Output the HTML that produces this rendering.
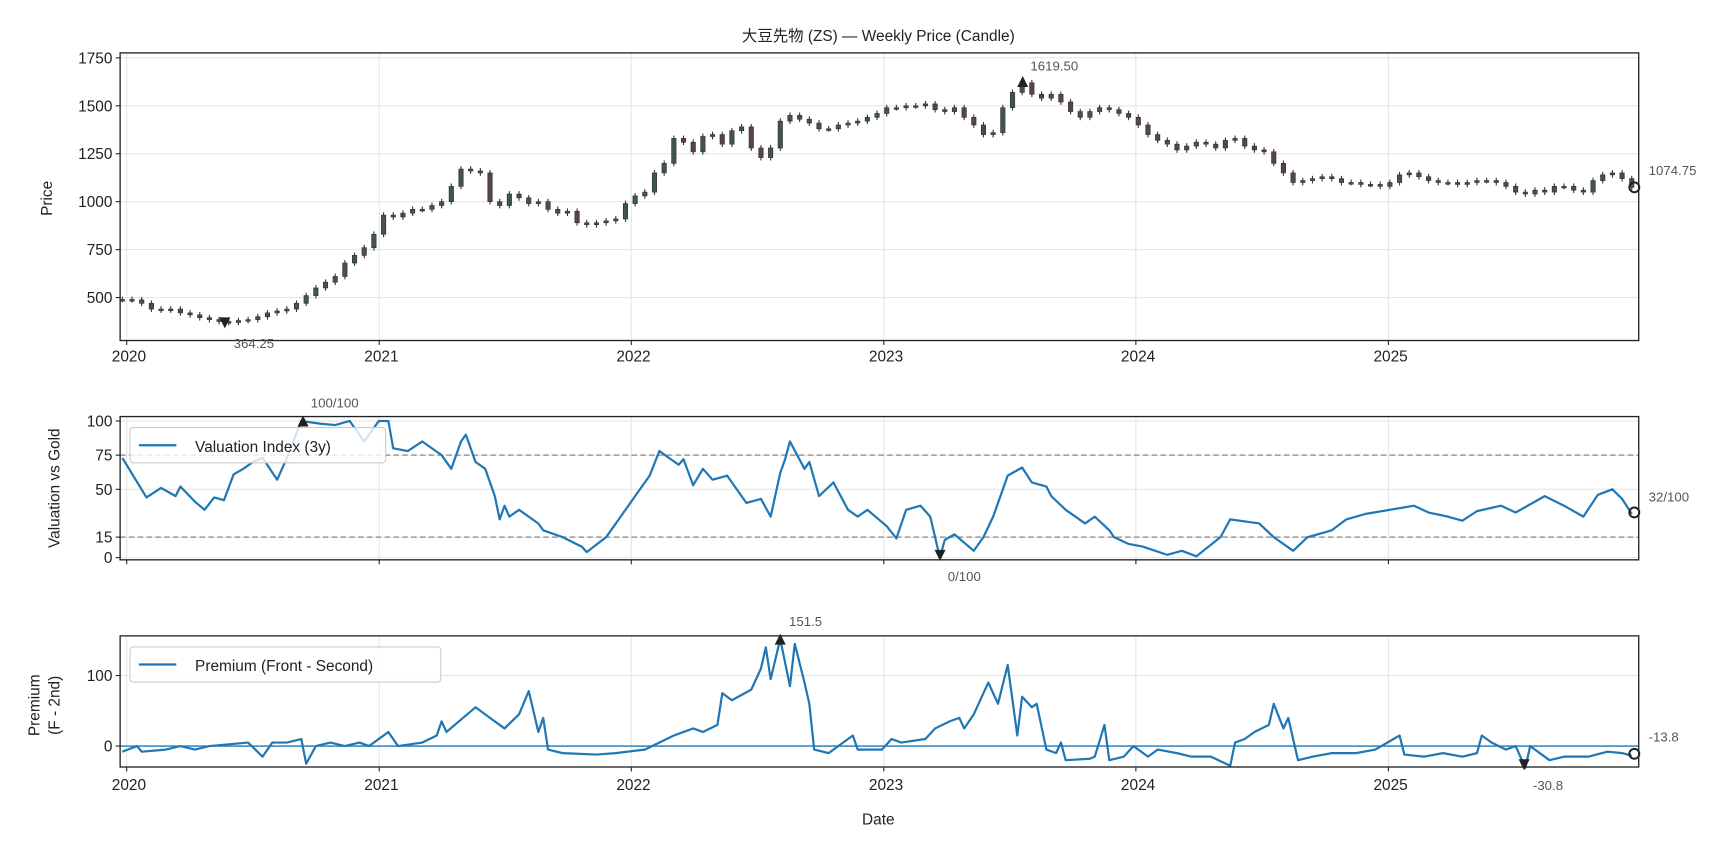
<!DOCTYPE html>
<html><head><meta charset="utf-8">
<style>
html,body{margin:0;padding:0;background:#fff;}
svg{display:block;font-family:"Liberation Sans","Noto Sans CJK JP",sans-serif;}
.tk{font-size:14px;fill:#222;}
.an{font-size:12px;fill:#555;font-family:"Liberation Sans Narrow","Liberation Sans",sans-serif;}
</style></head>
<body>
<svg id="chart" width="1728" height="849" viewBox="0 0 1568 770.4"></svg>
<script>
// ---- data ----
const yearTickWeeks = [0.9, 53.1, 105.2, 157.4, 209.5, 261.7];
const yearLabels = ["2020","2021","2022","2023","2024","2025"];
const priceWeeks = [0,2,4,6,8,10,12,14,16,18,20,22,24,26,28,30,32,34,36,38,40,42,44,46,48,50,52,54,56,58,60,62,64,66,68,70,72,74,76,78,80,82,84,86,88,90,92,94,96,98,100,102,104,106,108,110,112,114,116,118,120,122,124,126,128,130,132,134,136,138,140,142,144,146,148,150,152,154,156,158,160,162,164,166,168,170,172,174,176,178,180,182,184,186,188,190,192,194,196,198,200,202,204,206,208,210,212,214,216,218,220,222,224,226,228,230,232,234,236,238,240,242,244,246,248,250,252,254,256,258,260,262,264,266,268,270,272,274,276,278,280,282,284,286,288,290,292,294,296,298,300,302,304,306,308,310,312];
const priceClose = [490,488,470,440,435,440,420,410,395,385,375,370,380,385,400,420,430,440,470,510,550,580,610,680,720,760,830,930,920,940,960,960,980,1000,1080,1170,1160,1150,1000,980,1040,1020,990,1000,960,940,950,890,880,890,900,910,990,1030,1050,1150,1200,1330,1310,1260,1340,1350,1300,1370,1390,1280,1230,1280,1420,1450,1430,1410,1380,1380,1400,1410,1420,1440,1460,1490,1490,1500,1500,1510,1480,1470,1490,1440,1400,1350,1360,1490,1570,1620,1560,1540,1560,1520,1470,1440,1470,1490,1480,1460,1440,1400,1350,1320,1300,1270,1290,1310,1300,1280,1320,1330,1290,1270,1260,1200,1150,1100,1110,1120,1130,1120,1100,1100,1090,1090,1080,1100,1140,1150,1130,1110,1100,1100,1090,1100,1110,1110,1100,1080,1050,1040,1060,1050,1080,1080,1060,1050,1110,1140,1150,1120,1075];
const priceTicks = [500,750,1000,1250,1500,1750];
const valWeeks = [0,5,8,9,11,12,15,17,19,21,23,25,27,29,32,34,37,41,44,47,50,53,55,56,59,62,66,68,70,71,73,75,77,78,79,80,82,86,87,91,95,96,100,102,104,106,109,111,115,116,118,120,122,125,129,132,134,136,137,138,141,142,144,147,150,152,154,158,160,162,165,167,169,170,172,176,178,180,183,184,186,188,191,192,195,199,201,204,205,208,211,216,219,222,227,229,235,238,242,245,250,253,257,262,267,270,274,277,280,285,288,294,298,302,305,308,310,312];
const valValues = [73,44,51,49,45,52,41,35,44,42,61,65,70,73,57,73,100,98,97,100,85,100,100,80,78,85,75,65,85,90,70,65,45,28,38,30,35,25,20,15,8,4,15,25,35,45,60,78,68,72,53,65,57,60,40,43,30,62,72,85,65,70,45,55,35,30,35,23,14,35,38,30,0,13,17,5,15,30,60,62,66,55,52,45,35,25,30,20,15,10,8,2,5,1,15,28,25,15,5,15,20,28,32,35,38,33,30,27,34,38,33,45,38,30,46,50,43,32];
const valTicks = [0,15,50,75,100];
const premWeeks = [0,3,4,9,12,15,18,26,29,31,34,37,38,40,43,46,49,51,55,57,62,65,66,67,73,76,79,82,84,86,87,88,91,98,102,108,114,118,120,123,124,126,130,132,133,134,136,138,139,141,142,143,146,149,151,152,157,159,161,166,168,171,173,174,176,179,181,183,185,186,188,189,191,193,194,195,200,201,203,204,207,209,210,212,214,218,221,225,229,230,232,234,237,238,240,241,243,246,250,255,259,264,265,269,273,277,280,281,283,286,288,290,291,292,295,298,303,307,310,312];
const premValues = [-8,0,-8,-5,0,-5,0,5,-15,5,5,10,-25,0,5,0,5,0,20,0,5,15,35,20,55,40,25,45,78,20,40,-5,-10,-12,-10,-5,15,25,20,30,75,65,80,110,140,95,151.5,85,145,90,60,-5,-10,5,15,-5,-5,10,5,10,25,35,40,25,45,90,60,115,15,70,55,60,-5,-10,5,-20,-18,-15,30,-20,-15,0,-5,-15,-5,-10,-15,-15,-28,5,10,20,30,60,25,40,-20,-15,-10,-10,-5,15,-12,-15,-10,-15,-10,15,5,-5,0,-30.8,0,-5,-20,-15,-15,-8,-10,-13.8];
const premTicks = [0,100];

// ---- axes ----
const NS="http://www.w3.org/2000/svg";
const svg=document.getElementById('chart');
const X0=109,X1=1487;
const xW=w=>111+w*4.39;
const yP=p=>270-(p-500)*0.174;
const yV=v=>506-v*1.24;
const yR=v=>677-v*0.64;
function mk(tag,attrs,parent){const e=document.createElementNS(NS,tag);for(const k in attrs)e.setAttribute(k,attrs[k]);(parent||svg).appendChild(e);return e;}
function txt(s,x,y,cls,anchor,extra){const t=mk('text',Object.assign({x:x,y:y,class:cls,'text-anchor':anchor||'middle'},extra||{}));t.textContent=s;return t;}

const panels=[{t:48,b:309,ticks:priceTicks,f:yP,name:'price'},{t:378,b:508,ticks:valTicks,f:yV,name:'valuation'},{t:577,b:696,ticks:premTicks,f:yR,name:'premium'}];
panels.forEach(p=>{
  const g=mk('g',{});
  
  
  yearTickWeeks.forEach(w=>mk('line',{x1:xW(w),x2:xW(w),y1:p.t,y2:p.b,stroke:'#e6e6e6','stroke-width':1},g));
  p.ticks.forEach(v=>{mk('line',{x1:X0,x2:X1,y1:p.f(v),y2:p.f(v),stroke:'#e6e6e6','stroke-width':1},g);
    mk('line',{x1:X0-4,x2:X0,y1:p.f(v),y2:p.f(v),stroke:'#222'},g);
    const t=txt(String(v),X0-7,p.f(v)+5,'tk','end');
    
    });
  yearTickWeeks.forEach(w=>mk('line',{x1:xW(w),x2:xW(w),y1:p.b,y2:p.b+4,stroke:'#222'},g));
});
// x labels
[328,717].forEach((yy,i)=>yearTickWeeks.forEach((w,j)=>{const t=txt(yearLabels[j],xW(w)+2,yy,'tk');
  
  }));

// reference lines
[75,15].forEach(v=>{const l=mk('line',{x1:X0,x2:X1,y1:yV(v),y2:yV(v),stroke:'#999','stroke-width':1.3,'stroke-dasharray':'5,3'});
  
  });
const zl=mk('line',{x1:X0,x2:X1,y1:yR(0),y2:yR(0),stroke:'#1f77b4','stroke-width':1.3});



// candles
const cg=mk('g',{});


priceClose.forEach((c,i)=>{
  const o=i>0?priceClose[i-1]:c;
  const hi=Math.max(o,c)+15, lo=Math.min(o,c)-15;
  const x=xW(priceWeeks[i]);
  const col=c>=o?'#3f5555':'#5a4545';
  mk('line',{x1:x,x2:x,y1:yP(hi),y2:yP(lo),stroke:'#333','stroke-width':1},cg);
  const top=yP(Math.max(o,c)),h=Math.max(1.5,yP(Math.min(o,c))-top);
  const r=mk('rect',{x:x-2,y:top,width:4,height:h,fill:col,stroke:'#333','stroke-width':0.6},cg);
  
  
});

function line(ws,vs,f,name){const d=ws.map((w,i)=>(i?'L':'M')+xW(w).toFixed(1)+','+f(vs[i]).toFixed(1)).join('');
  const p=mk('path',{d:d,fill:'none',stroke:'#1f77b4','stroke-width':2,'stroke-linejoin':'round'});
  
  }
line(valWeeks,valValues,yV,'valuation-line');
line(premWeeks,premValues,yR,'premium-line');

// frames
panels.forEach(p=>{const r=mk('rect',{x:X0,y:p.t,width:X1-X0,height:p.b-p.t,fill:'none',stroke:'#222','stroke-width':1.2});
  
  });

// markers & annotations
function tri(x,y,up,name){const p=mk('path',{d:up?`M${x-5},${y+5}L${x+5},${y+5}L${x},${y-5}Z`:`M${x-5},${y-5}L${x+5},${y-5}L${x},${y+5}Z`,fill:'#222'});
  
  }
function circ(x,y,name){const c=mk('circle',{cx:x,cy:y,r:4.5,fill:'none',stroke:'#222','stroke-width':1.8});
  
  }
function ann(s,x,y,name){const t=txt(s,x,y,'an','start');
  
  }
tri(928,74,true,'price-max-marker'); ann('1619.50',935,64,'price-max-label');
tri(204,293,false,'price-min-marker'); ann('364.25',212,316,'price-min-label');
circ(1483,170,'price-last-marker'); ann('1074.75',1496,159,'price-last-label');
tri(275,382,true,'valuation-max-marker'); ann('100/100',282,370,'valuation-max-label');
tri(853,504,false,'valuation-min-marker'); ann('0/100',860,527,'valuation-min-label');
circ(1483,465,'valuation-last-marker'); ann('32/100',1496,455,'valuation-last-label');
tri(708,580,true,'premium-max-marker'); ann('151.5',716,568,'premium-max-label');
tri(1383,694,false,'premium-min-marker'); ann('-30.8',1391,717,'premium-min-label');
circ(1483,684,'premium-last-marker'); ann('-13.8',1496,673,'premium-last-label');

// legends
function legend(x,y,w,label,name){const g=mk('g',{});
  
  
  mk('rect',{x:x,y:y,width:w,height:32,rx:3,fill:'rgba(255,255,255,0.8)',stroke:'#ccc'},g);
  mk('line',{x1:x+8,x2:x+42,y1:y+16,y2:y+16,stroke:'#1f77b4','stroke-width':2},g);
  const t=txt(label,x+59,y+22,'tk','start');t.setAttribute('font-size','16');g.appendChild(t);}
legend(118,388,232,'Valuation Index (3y)','valuation-legend');
legend(118,587,282,'Premium (Front - Second)','premium-legend');

// titles
let t=txt('大豆先物 (ZS) — Weekly Price (Candle)',797,37,'tk');t.setAttribute('font-size','18');

t=txt('Price',0,0,'tk','middle',{transform:'translate(47,180) rotate(-90)'});t.setAttribute('font-size','15');

t=txt('Valuation vs Gold',0,0,'tk','middle',{transform:'translate(54,443) rotate(-90)'});t.setAttribute('font-size','15');

t=txt('Premium',0,0,'tk','middle',{transform:'translate(36,640) rotate(-90)'});t.setAttribute('font-size','15');

t=txt('(F - 2nd)',0,0,'tk','middle',{transform:'translate(54,640) rotate(-90)'});t.setAttribute('font-size','15');

t=txt('Date',797,748,'tk');t.setAttribute('font-size','15');

</script>
</body></html>
